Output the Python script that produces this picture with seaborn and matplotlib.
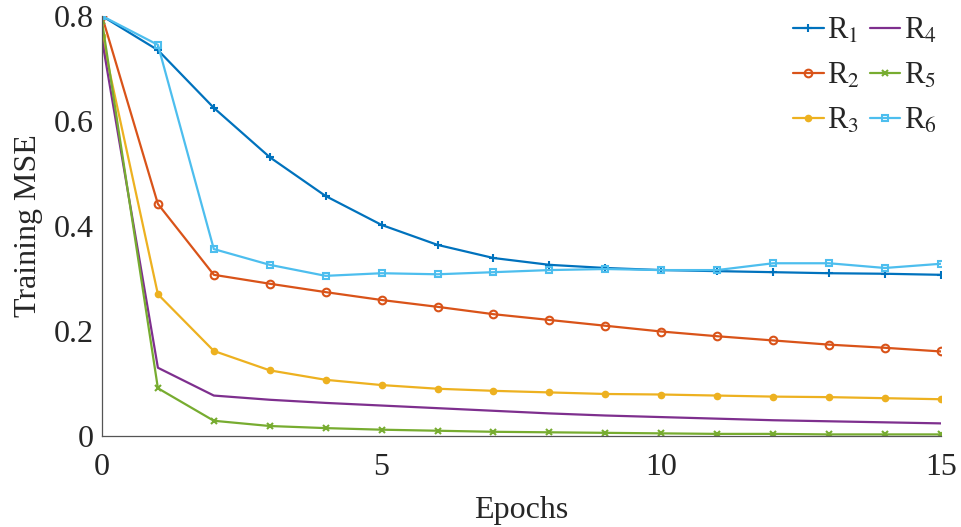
import matplotlib
matplotlib.use("Agg")
import matplotlib.pyplot as plt
import seaborn as sns
import pandas as pd

epochs = list(range(16))
R1 = [0.800, 0.735, 0.625, 0.531, 0.457, 0.402, 0.364, 0.339, 0.326, 0.320, 0.316, 0.314, 0.312, 0.310, 0.309, 0.307]
R2 = [0.800, 0.442, 0.307, 0.290, 0.274, 0.259, 0.246, 0.232, 0.221, 0.210, 0.199, 0.190, 0.182, 0.174, 0.168, 0.161]
R3 = [0.761, 0.270, 0.162, 0.125, 0.107, 0.097, 0.090, 0.086, 0.083, 0.080, 0.079, 0.077, 0.075, 0.074, 0.072, 0.070]
R4 = [0.755, 0.130, 0.077, 0.069, 0.063, 0.058, 0.053, 0.048, 0.043, 0.039, 0.036, 0.033, 0.030, 0.028, 0.026, 0.024]
R5 = [0.790, 0.091, 0.029, 0.019, 0.015, 0.012, 0.010, 0.008, 0.007, 0.006, 0.005, 0.004, 0.004, 0.003, 0.003, 0.003]
R6 = [0.800, 0.745, 0.356, 0.326, 0.305, 0.310, 0.308, 0.312, 0.316, 0.318, 0.316, 0.316, 0.329, 0.329, 0.320, 0.328]
series_names = ["R$_1$", "R$_2$", "R$_3$", "R$_4$", "R$_5$", "R$_6$"]
series_values = [R1, R2, R3, R4, R5, R6]
x_ticks = [0, 5, 10, 15]
y_ticks = [0, 0.2, 0.4, 0.6, 0.8]
y_tick_labels = ["0", "0.2", "0.4", "0.6", "0.8"]

colors = ["#0072BD", "#D95319", "#EDB120", "#7E2F8E", "#77AC30", "#4DBEEE"]
markers = ["+", "o", ".", None, "x", "s"]
msizes = [6, 5.5, 8, 0, 4.5, 5]
hollow = [False, True, False, False, False, True]

sns.set_theme(style="white")
plt.rcParams["font.family"] = ["Liberation Serif", "DejaVu Serif"]
plt.rcParams["mathtext.fontset"] = "stix"

fig = plt.figure(figsize=(9.62, 5.27), dpi=100)
ax = fig.add_axes([0.106, 0.1727, 0.872, 0.797])

for name, vals, c, m, ms, h in zip(series_names, series_values, colors, markers, msizes, hollow):
    df = pd.DataFrame({"Epochs": epochs, "MSE": vals})
    kw = dict(color=c, linewidth=1.6, label=name)
    if m is not None:
        kw.update(marker=m, markersize=ms, markeredgewidth=1.5, markeredgecolor=c)
        kw["markerfacecolor"] = "none" if h else c
    sns.lineplot(data=df, x="Epochs", y="MSE", ax=ax, **kw)

ax.set_xlim(0, 15)
ax.set_ylim(0, 0.8)
ax.set_xticks(x_ticks)
ax.set_xticklabels([str(t) for t in x_ticks])
ax.set_yticks(y_ticks)
ax.set_yticklabels(y_tick_labels)
ax.tick_params(direction="in", length=7, width=0.8, color="#555555", labelcolor="#262626",
               labelsize=23, pad=6)
ax.tick_params(axis="x", pad=12)
for s in ["top", "right"]:
    ax.spines[s].set_visible(False)
for s in ["left", "bottom"]:
    ax.spines[s].set_color("#555555")
    ax.spines[s].set_linewidth(0.9)
ax.set_xlabel("Epochs", fontsize=23, color="#262626", labelpad=10)
ax.set_ylabel("Training MSE", fontsize=23, color="#262626", labelpad=8)
ax.grid(False)

leg = ax.legend(ncol=2, frameon=False, loc="upper right",
                bbox_to_anchor=(0.99, 0.998), bbox_transform=fig.transFigure,
                borderpad=0, fontsize=22, handlelength=1.0, handletextpad=0.12,
                columnspacing=0.32, labelspacing=0.52)
for t in leg.get_texts():
    t.set_color("#262626")

fig.savefig("out.png", dpi=100)
